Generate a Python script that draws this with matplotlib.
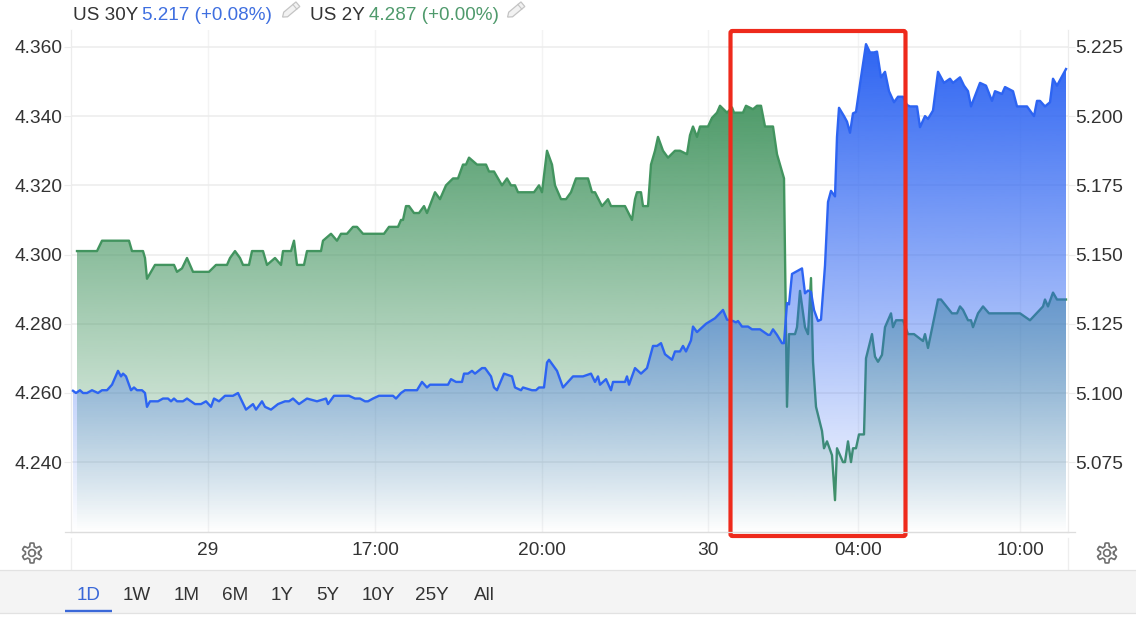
import numpy as np
import matplotlib
matplotlib.use("Agg")
import matplotlib.pyplot as plt
from matplotlib.patches import FancyBboxPatch, Polygon, Rectangle

plt.rcParams['font.family'] = ['Liberation Sans', 'DejaVu Sans']

# bar position along the session axis, then yield, one pair of lists per bond
bars_2y = [6, 26, 31, 58, 61, 72, 74, 76, 84, 103, 106, 111, 116, 122, 138, 145, 156, 159, 164, 169,
           172, 178, 181, 192, 196, 204, 210, 212, 220, 223, 226, 233, 236, 250, 252, 260, 266, 270, 276, 282,
           286, 292, 313, 318, 327, 330, 332, 335, 338, 343, 348, 353, 356, 364, 369, 375, 382, 387, 392, 395,
           398, 406, 415, 418, 423, 431, 436, 440, 444, 447, 463, 468, 471, 476, 481, 484, 490, 495, 500, 505,
           517, 521, 524, 531, 537, 540, 554, 561, 564, 566, 570, 572, 577, 580, 584, 587, 592, 597, 604, 609,
           616, 619, 622, 626, 629, 637, 641, 646, 649, 656, 661, 663, 672, 675, 682, 686, 690, 694, 702, 706,
           713, 716, 718, 724, 726, 729, 734, 737, 740, 742, 745, 751, 753, 756, 761, 764, 766, 772, 774, 777,
           780, 782, 785, 788, 793, 795, 801, 804, 807, 811, 814, 820, 822, 825, 832, 837, 843, 852, 854, 857,
           867, 870, 881, 886, 889, 892, 897, 900, 902, 907, 912, 918, 949, 959, 972, 974, 977, 982, 986, 995]
yield_2y = [4.301, 4.301, 4.304, 4.304, 4.301, 4.301, 4.299, 4.293, 4.297, 4.297, 4.295, 4.296, 4.299, 4.295, 4.295,
            4.297, 4.297, 4.299, 4.301, 4.299, 4.297, 4.297, 4.301, 4.301, 4.297, 4.299, 4.297, 4.301, 4.301, 4.304,
            4.297, 4.297, 4.301, 4.301, 4.304, 4.306, 4.304, 4.306, 4.306, 4.308, 4.308, 4.306, 4.306, 4.308, 4.308,
            4.310, 4.310, 4.314, 4.314, 4.312, 4.312, 4.314, 4.312, 4.318, 4.316, 4.320, 4.322, 4.322, 4.326, 4.326,
            4.328, 4.326, 4.326, 4.324, 4.324, 4.320, 4.322, 4.320, 4.320, 4.318, 4.318, 4.320, 4.318, 4.330, 4.326,
            4.320, 4.316, 4.316, 4.318, 4.322, 4.322, 4.318, 4.318, 4.314, 4.316, 4.314, 4.314, 4.310, 4.316, 4.318,
            4.318, 4.314, 4.314, 4.326, 4.330, 4.334, 4.330, 4.328, 4.330, 4.330, 4.329, 4.3345, 4.337, 4.334, 4.337,
            4.337, 4.3395, 4.341, 4.343, 4.341, 4.3425, 4.341, 4.341, 4.343, 4.342, 4.343, 4.343, 4.337, 4.337, 4.329,
            4.322, 4.256, 4.277, 4.277, 4.279, 4.2895, 4.279, 4.277, 4.2932, 4.269, 4.256, 4.249, 4.244, 4.246, 4.242,
            4.229, 4.244, 4.240, 4.240, 4.246, 4.240, 4.244, 4.244, 4.248, 4.248, 4.270, 4.277, 4.2705, 4.269, 4.271,
            4.279, 4.283, 4.279, 4.281, 4.281, 4.277, 4.277, 4.275, 4.277, 4.273, 4.287, 4.287, 4.283, 4.283, 4.285,
            4.284, 4.281, 4.281, 4.279, 4.283, 4.285, 4.283, 4.283, 4.281, 4.285, 4.287, 4.285, 4.289, 4.287, 4.287]

bars_30y = [2, 5, 9, 12, 16, 21, 27, 31, 36, 41, 47, 50, 52, 55, 60, 63, 66, 71, 74, 76,
            79, 87, 92, 97, 100, 103, 106, 112, 116, 124, 130, 135, 140, 143, 148, 154, 162, 167, 175, 182,
            185, 191, 194, 200, 207, 214, 218, 222, 228, 236, 246, 255, 257, 263, 278, 284, 289, 294, 297, 302,
            308, 322, 325, 330, 334, 346, 351, 356, 359, 377, 380, 385, 391, 393, 397, 401, 404, 411, 414, 420,
            423, 426, 433, 441, 444, 450, 452, 461, 465, 468, 473, 476, 478, 486, 489, 492, 502, 512, 520, 524,
            527, 529, 535, 540, 542, 554, 556, 558, 564, 570, 576, 579, 582, 586, 590, 594, 601, 604, 609, 612,
            615, 620, 622, 626, 635, 644, 652, 656, 662, 665, 667, 671, 677, 681, 689, 697, 699, 702, 706, 711,
            713, 716, 718, 721, 731, 734, 737, 740, 743, 747, 750, 754, 757, 760, 764, 766, 768, 773, 776, 779,
            782, 785, 790, 795, 799, 803, 806, 810, 814, 818, 823, 827, 832, 836, 839, 846, 849, 854, 857, 862,
            867, 873, 879, 882, 889, 893, 897, 900, 909, 915, 921, 924, 931, 934, 942, 946, 956, 963, 966, 969,
            974, 979, 982, 986, 995]
yield_30y = [5.1008, 5.100, 5.101, 5.100, 5.100, 5.101, 5.100, 5.101, 5.101, 5.103, 5.108, 5.106, 5.107, 5.106, 5.101,
             5.102, 5.101, 5.101, 5.100, 5.095, 5.097, 5.097, 5.098, 5.098, 5.097, 5.098, 5.097, 5.097, 5.098, 5.096,
             5.096, 5.097, 5.095, 5.098, 5.097, 5.099, 5.099, 5.100, 5.094, 5.096, 5.094, 5.097, 5.095, 5.094, 5.096,
             5.097, 5.097, 5.098, 5.096, 5.098, 5.097, 5.098, 5.096, 5.099, 5.099, 5.098, 5.098, 5.097, 5.097, 5.098,
             5.099, 5.099, 5.098, 5.100, 5.101, 5.101, 5.104, 5.102, 5.103, 5.103, 5.105, 5.104, 5.104, 5.107, 5.107,
             5.108, 5.107, 5.109, 5.109, 5.106, 5.102, 5.101, 5.107, 5.106, 5.102, 5.101, 5.102, 5.101, 5.101, 5.102,
             5.102, 5.111, 5.112, 5.108, 5.105, 5.102, 5.106, 5.106, 5.107, 5.104, 5.106, 5.103, 5.105, 5.101, 5.104,
             5.104, 5.106, 5.103, 5.109, 5.107, 5.109, 5.113, 5.117, 5.117, 5.118, 5.114, 5.112, 5.115, 5.115, 5.117,
             5.115, 5.119, 5.124, 5.122, 5.125, 5.127, 5.130, 5.1265, 5.126, 5.1255, 5.126, 5.124, 5.124, 5.123, 5.123,
             5.121, 5.121, 5.123, 5.121, 5.118, 5.118, 5.1325, 5.132, 5.143, 5.145, 5.136, 5.137, 5.1365, 5.130, 5.126,
             5.1265, 5.146, 5.169, 5.173, 5.171, 5.1925, 5.203, 5.200, 5.198, 5.194, 5.201, 5.2015, 5.214, 5.226, 5.223,
             5.223, 5.2233, 5.214, 5.216, 5.209, 5.205, 5.207, 5.207, 5.204, 5.2035, 5.2035, 5.196, 5.200, 5.199, 5.202,
             5.216, 5.212, 5.2135, 5.212, 5.214, 5.211, 5.209, 5.2035, 5.212, 5.211, 5.2055, 5.209, 5.208, 5.2105, 5.209,
             5.2035, 5.2035, 5.200, 5.2055, 5.2055, 5.2035, 5.205, 5.2135, 5.211, 5.217]

left_ticks = [4.24, 4.26, 4.28, 4.30, 4.32, 4.34, 4.36]
right_ticks = [5.075, 5.10, 5.125, 5.15, 5.175, 5.20, 5.225]
time_ticks = [137, 304, 471, 637, 787, 949]
time_labels = ['29', '17:00', '20:00', '30', '04:00', '10:00']
ranges = ['1D', '1W', '1M', '6M', '1Y', '5Y', '10Y', '25Y', 'All']
range_centres = [89, 137, 187, 235, 282, 328, 378, 432, 484]

GREEN = '#42945f'
BLUE = '#2d64f2'
TEXT = '#333333'
GRID = '#ececec'
FONT = 13.8

W, H = 1136, 626
fig = plt.figure(figsize=(W / 100, H / 100), dpi=100, facecolor='white')
ax = fig.add_axes([71 / W, 1 - 532 / H, 997 / W, 502 / H])
ax2 = ax.twinx()


def area(a, x, y, colour, top, strength):
    # line with a filled area that fades out towards the bottom of the axis
    lo, hi = a.get_ylim()
    levels = np.linspace(hi, lo, 512)
    rgba = np.zeros((512, 1, 4))
    rgba[..., :3] = matplotlib.colors.to_rgb(colour)
    rgba[:, 0, 3] = strength * np.clip((levels - lo) / (top - lo), 0, 1)
    poly = a.fill_between(x, y, lo, facecolor='none', linewidth=0)
    im = a.imshow(rgba, extent=[0, 997, lo, hi], aspect='auto', origin='upper', zorder=2)
    im.set_clip_path(poly.get_paths()[0], transform=a.transData)
    a.plot(x, y, color=colour, lw=1.7, solid_joinstyle='round', zorder=3)


ax.set_xlim(0, 997)
ax.set_ylim(4.2198, 4.3649)
ax2.set_ylim(5.0498, 5.2311)
area(ax, bars_2y, yield_2y, GREEN, 4.343, 0.93)
area(ax2, bars_30y, yield_30y, BLUE, 5.226, 1.0)
ax.set_xlim(0, 997)
ax2.set_xlim(0, 997)
ax.set_ylim(4.2198, 4.3649)
ax2.set_ylim(5.0498, 5.2311)

ax.set_yticks(left_ticks)
ax.set_yticklabels(['%.3f' % t for t in left_ticks])
ax2.set_yticks(right_ticks)
ax2.set_yticklabels(['%.3f' % t for t in right_ticks])
ax.set_xticks(time_ticks)
ax.set_xticklabels(time_labels)
ax.grid(True, axis='y', color=GRID, lw=1.1, zorder=0)
ax.grid(True, axis='x', color='#f3f3f3', lw=1.0)
ax.set_axisbelow(True)
ax.tick_params(axis='x', length=0, pad=7.5, labelsize=FONT, labelcolor=TEXT)
ax.tick_params(axis='y', length=5, width=0.8, color=GRID, pad=1, labelsize=FONT, labelcolor=TEXT)
ax2.tick_params(axis='y', length=5, width=0.8, color=GRID, pad=0.5, labelsize=FONT, labelcolor=TEXT)
for a in (ax, ax2):
    a.spines['top'].set_visible(False)
    for side in ('left', 'right'):
        a.spines[side].set_color(GRID)
    a.spines['bottom'].set_color('#dddddd')

# page furniture drawn in figure pixels
ui = fig.add_axes([0, 0, 1, 1], zorder=5)
ui.set_xlim(0, W)
ui.set_ylim(H, 0)
ui.axis('off')
ui.patch.set_alpha(0)

ui.plot([65, 1075], [532, 532], color='#dddddd', lw=0.9)
for sx in (71, 1068):
    ui.plot([sx, sx], [538, 569], color='#eeeeee', lw=0.9)
ui.add_patch(Rectangle((0, 570), W, 43, facecolor='#f4f4f4', edgecolor='none'))
ui.plot([0, W], [570, 570], color='#e2e2e2', lw=0.9)
ui.plot([0, W], [613, 613], color='#e2e2e2', lw=0.9)
ui.plot([65, 112], [611, 611], color='#3a68d8', lw=1.7, solid_capstyle='butt')
for name, cx in zip(ranges, range_centres):
    ui.text(cx, 595.5, name, ha='center', va='center', fontsize=13.6,
            color='#3a68d8' if name == '1D' else TEXT)

for lx, txt, col in [(73, 'US 30Y', TEXT), (142, '5.217 (+0.08%)', '#3f6fe0'),
                     (310, 'US 2Y', TEXT), (369, '4.287 (+0.00%)', '#4f9a6c')]:
    ui.text(lx, 16, txt, ha='left', va='center', fontsize=13.6, color=col)


def pencil(cx, cy):
    t = np.radians(-40)
    shape = np.array([[-11, 0], [-7, -3], [9, -3], [9, 3], [-7, 3]], dtype=float)
    rot = np.array([[np.cos(t), -np.sin(t)], [np.sin(t), np.cos(t)]])
    ui.add_patch(Polygon(rot.dot(shape.T).T + [cx, cy], closed=True, facecolor='#f2f2f2',
                         edgecolor='#c4c4c4', lw=0.9))
    band = rot.dot(np.array([[5, -3], [5, 3]], dtype=float).T).T + [cx, cy]
    ui.plot(band[:, 0], band[:, 1], color='#c4c4c4', lw=0.8)


def gear(cx, cy):
    ang = np.linspace(0, 2 * np.pi, 241)
    rad = 8.3 + 1.7 * np.clip(2.2 * np.cos(6 * ang + np.pi), -1, 1)
    ui.plot(cx + rad * np.cos(ang), cy + rad * np.sin(ang), color='#6f6f6f', lw=1.2)
    ui.plot(cx + 3.4 * np.cos(ang), cy + 3.4 * np.sin(ang), color='#6f6f6f', lw=1.2)


pencil(291, 10)
pencil(516, 10)
gear(32, 553)
gear(1107, 553)

# highlighted window around the overnight move
ui.add_patch(FancyBboxPatch((730.5, 31), 175, 505, boxstyle='round,pad=0,rounding_size=2',
                            facecolor='none', edgecolor='#ee2a1c', lw=3.0))

fig.savefig('out.png', dpi=100)
